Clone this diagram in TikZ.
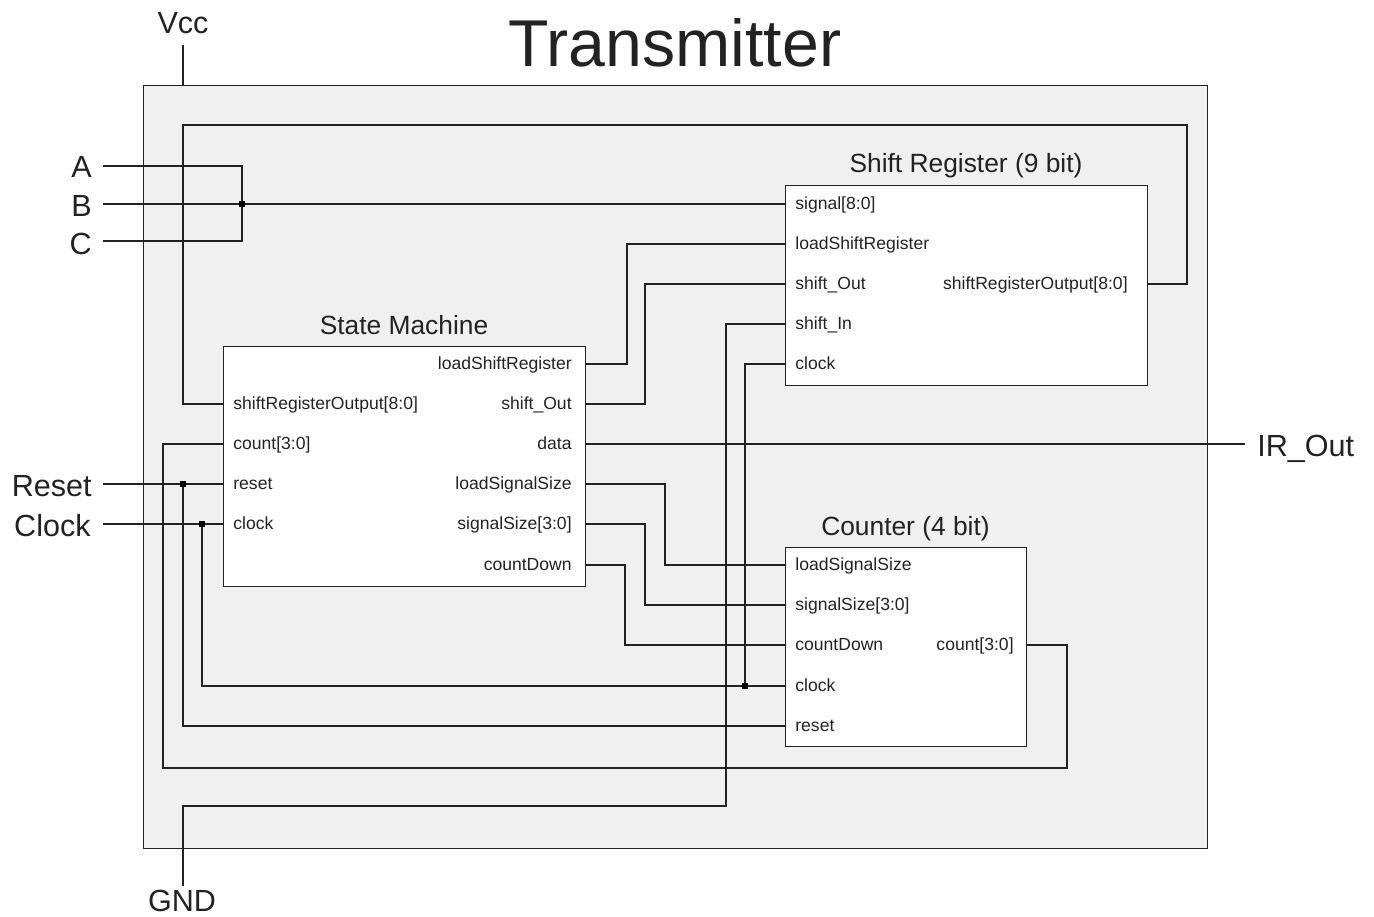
\documentclass[tikz,border=0pt]{standalone}
\usepackage{fontspec}
\setmainfont{Liberation Sans}
\usetikzlibrary{calc}
\definecolor{panel}{HTML}{F0F0F0}
\definecolor{ink}{HTML}{222222}

% input port: coordinate on the left edge of a block, label inside
\newcommand\portL[4]{%
  \coordinate (#1) at (#2,#3);
  \node[plabel, anchor=west] (#1-t) at ($(#1)+(10,0)$) {#4};}
% output port: coordinate on the right edge, label right-aligned inside
\newcommand\portR[5]{%
  \coordinate (#1) at (#2,#3);
  \node[plabel, anchor=east] (#1-t) at ($(#1)+(-#4,0)$) {#5};}

\begin{document}
\begin{tikzpicture}[x=0.02cm, y=-0.02cm,
  wire/.style={draw=ink, line width=0.75pt},
  blk/.style={draw=ink, fill=white, line width=0.75pt, rectangle, inner sep=0pt, anchor=north west},
  plabel/.style={font=\fontsize{10}{12}\selectfont, text=ink, inner sep=0pt, text height=7pt, text depth=0.6pt},
  title/.style={font=\fontsize{15}{18}\selectfont, text=ink, anchor=base, inner sep=0pt},
  sig/.style={font=\fontsize{17.4}{20}\selectfont, text=ink, inner sep=0pt},
  junction/.style={fill=black, rectangle, minimum size=3.4pt, inner sep=0pt}]

\useasboundingbox (0,0) rectangle (1374,917);

% enclosing module
\node[blk, fill=panel, minimum width=21.28cm, minimum height=15.26cm] (tx) at (143,85) {};
\node[title, font=\fontsize{37.7}{40}\selectfont] (ttl) at (675,66) {Transmitter};

% sub-blocks
\node[blk, minimum width=7.24cm, minimum height=4.8cm] (sm) at (223,346) {};
\node[blk, minimum width=7.24cm, minimum height=4cm] (sr) at (785,185) {};
\node[blk, minimum width=4.82cm, minimum height=3.98cm] (ct) at (785,547) {};

\node[title] (smT) at (404,334) {State Machine};
\node[title] (srT) at (966,172) {Shift Register (9 bit)};
\node[title] (ctT) at (905.5,535) {Counter (4 bit)};

% state machine ports
\portL{smSRO}{223}{404}{shiftRegisterOutput[8:0]}
\portL{smCount}{223}{444}{count[3:0]}
\portL{smReset}{223}{484}{reset}
\portL{smClock}{223}{524}{clock}
\portR{smLSR}{585}{364}{13}{loadShiftRegister}
\portR{smSO}{585}{404}{13}{shift\_Out}
\portR{smData}{585}{444}{13}{data}
\portR{smLSS}{585}{484}{13}{loadSignalSize}
\portR{smSS}{585}{524}{13}{signalSize[3:0]}
\portR{smCD}{585}{565}{13}{countDown}

% shift register ports
\portL{srSig}{785}{204}{signal[8:0]}
\portL{srLSR}{785}{244}{loadShiftRegister}
\portL{srSO}{785}{284}{shift\_Out}
\portL{srSI}{785}{324}{shift\_In}
\portL{srClk}{785}{364}{clock}
\portR{srOut}{1147}{284}{19}{shiftRegisterOutput[8:0]}

% counter ports
\portL{ctLSS}{785}{565}{loadSignalSize}
\portL{ctSS}{785}{605}{signalSize[3:0]}
\portL{ctCD}{785}{645}{countDown}
\portL{ctClk}{785}{686}{clock}
\portL{ctRst}{785}{726}{reset}
\portR{ctCount}{1026}{645}{12}{count[3:0]}

% external pins
\node[sig, anchor=base east] (pinA) at (92,177) {A};
\node[sig, anchor=base east] (pinB) at (92,216) {B};
\node[sig, anchor=base east] (pinC) at (92,254) {C};
\node[sig, anchor=base east] (pinR) at (92,496) {Reset};
\node[sig, anchor=base east] (pinK) at (91,536) {Clock};
\node[sig, anchor=base west] (pinIR) at (1257,456) {IR\_Out};
\node[sig, anchor=base] (pinV) at (183,33) {Vcc};
\node[sig, anchor=base] (pinG) at (182,911) {GND};

\coordinate (aIn) at (103,166);
\coordinate (bIn) at (103,204);
\coordinate (cIn) at (103,241);
\coordinate (rIn) at (103,484);
\coordinate (kIn) at (103,524);
\coordinate (irEnd) at (1245,444);
\coordinate (vccEnd) at (183,45);
\coordinate (gndEnd) at (183,886);
\coordinate (busTop) at (242,166);
\coordinate (busBot) at (242,241);

% A/B/C bus onto signal[8:0]
\draw[wire] (aIn) -- (busTop) -- (busBot) -- (cIn);
\draw[wire] (bIn) -- (srSig);

% supply stubs
\draw[wire] (vccEnd) -- (vccEnd |- tx.north);
\draw[wire] (gndEnd) |- (726,806) |- (srSI);

% reset and clock distribution
\draw[wire] (rIn) -- (smReset);
\draw[wire] (kIn) -- (smClock);
\draw[wire] (183,484) |- (ctRst);
\draw[wire] (202,524) |- (ctClk);
\draw[wire] (745,686) |- (srClk);

% state machine to shift register
\draw[wire] (smLSR) -- +(42,0) |- (srLSR);
\draw[wire] (smSO) -- +(60,0) |- (srSO);

% state machine to counter
\draw[wire] (smLSS) -- +(80,0) |- (ctLSS);
\draw[wire] (smSS) -- +(60,0) |- (ctSS);
\draw[wire] (smCD) -- +(40,0) |- (ctCD);

% feedback loops
\draw[wire] (srOut) -- +(40,0) |- (183,125) |- (smSRO);
\draw[wire] (ctCount) -- +(41,0) |- (163,768) |- (smCount);

% output
\draw[wire] (smData) -- (irEnd);

% junction dots
\node[junction] (jB) at (242,204) {};
\node[junction] (jR) at (183,484) {};
\node[junction] (jK) at (202,524) {};
\node[junction] (jK2) at (745,686) {};
\end{tikzpicture}
\end{document}
